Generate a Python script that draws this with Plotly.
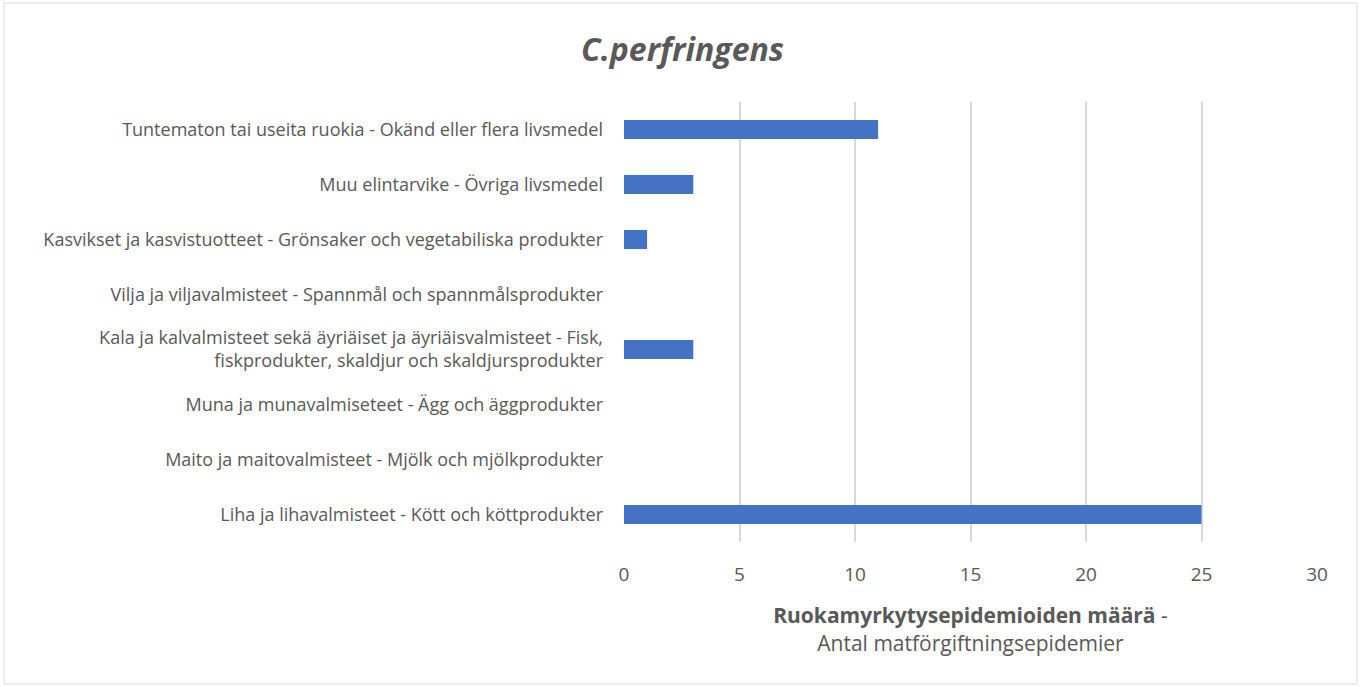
import plotly.graph_objects as go

categories = [
    "Liha ja lihavalmisteet - Kött och köttprodukter",
    "Maito ja maitovalmisteet - Mjölk och mjölkprodukter",
    "Muna ja munavalmiseteet - Ägg och äggprodukter",
    "Kala ja kalvalmisteet sekä äyriäiset ja äyriäisvalmisteet - Fisk,<br>fiskprodukter, skaldjur och skaldjursprodukter",
    "Vilja ja viljavalmisteet - Spannmål och spannmålsprodukter",
    "Kasvikset ja kasvistuotteet - Grönsaker och vegetabiliska produkter",
    "Muu elintarvike - Övriga livsmedel",
    "Tuntematon tai useita ruokia - Okänd eller flera livsmedel",
]
values = [25, 0, 0, 3, 0, 1, 3, 11]
x_ticks = [0, 5, 10, 15, 20, 25, 30]

grey = "#595959"
font = "Open Sans"

fig = go.Figure(go.Bar(
    x=values, y=categories, orientation="h",
    marker=dict(color="#4472C4", line=dict(width=0)),
    width=0.345,
))

fig.update_layout(
    width=1365, height=687,
    paper_bgcolor="white", plot_bgcolor="white",
    margin=dict(l=624, r=48, t=102, b=145),
    title=dict(text="<b><i>C.perfringens</i></b>", x=0.5, xanchor="center",
               y=1 - 50 / 687, yanchor="middle",
               font=dict(family=font, size=32, color=grey)),
    font=dict(family=font, color=grey),
    showlegend=False,
    xaxis=dict(range=[0, 30], tickvals=x_ticks, showgrid=True, gridcolor="#D9D9D9",
               gridwidth=1.5, zeroline=False, showline=False,
               tickfont=dict(size=19, color=grey), ticks="", ticklen=0,
               ticklabelstandoff=19,
               title=dict(text="<b>Ruokamyrkytysepidemioiden määrä</b> -<br>Antal matförgiftningsepidemier",
                          font=dict(size=21, color=grey), standoff=22)),
    yaxis=dict(categoryorder="array", categoryarray=categories, showgrid=False,
               showline=False, zeroline=False, ticks="", ticklabelstandoff=20,
               tickfont=dict(size=18, color=grey)),
    shapes=[dict(type="rect", xref="paper", yref="paper",
                 x0=-620/693, x1=1 + 40/693, y0=-142/440, y1=1 + 99/440,
                 line=dict(color="#D9D9D9", width=1))],
)

fig.write_html("out.html", config={"displayModeBar": False},
               post_script="document.body.style.margin='0';")
